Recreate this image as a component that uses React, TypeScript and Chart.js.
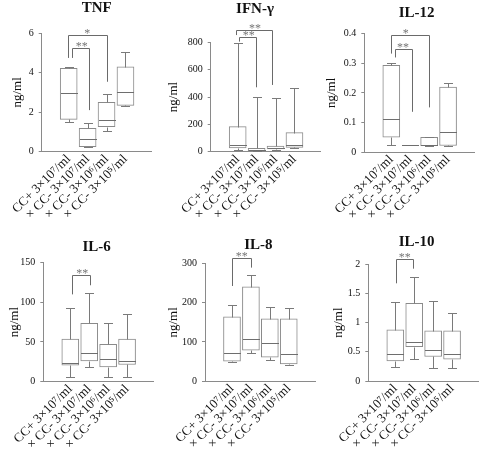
import React, { useEffect, useRef } from "react";
import { Chart, registerables } from "chart.js";

Chart.register(...registerables);

// ---------- category labels ----------
const CATEGORIES = [
  "CC+ 3×10\u2077/ml",
  "× CC- 3×10\u2077/ml",
  "× CC- 3×10\u2076/ml",
  "× CC- 3×10\u2075/ml",
];

// ---------- TNF ----------
const TNF_LOW = [1.52, 0.21, 1.04, 2.31];
const TNF_Q1 = [1.63, 0.25, 1.26, 2.34];
const TNF_MED = [2.95, 0.65, 1.6, 3.02];
const TNF_Q3 = [4.22, 1.17, 2.49, 4.3];
const TNF_HIGH = [4.3, 1.43, 2.92, 5.07];
const TNF_TICKS = [0, 2, 4, 6];

// ---------- IFN-γ ----------
const IFN_LOW = [12, 2, 12, 25];
const IFN_Q1 = [27, 7, 20, 32];
const IFN_MED = [50, 16, 29, 50];
const IFN_Q3 = [183, 24, 42, 140];
const IFN_HIGH = [795, 402, 395, 463];
const IFN_TICKS = [0, 200, 400, 600, 800];

// ---------- IL-12 ----------
const IL12_LOW = [0.024, 0.022, 0.02, 0.02];
const IL12_Q1 = [0.05, 0.022, 0.021, 0.022];
const IL12_MED = [0.11, 0.022, 0.022, 0.067];
const IL12_Q3 = [0.293, 0.022, 0.05, 0.22];
const IL12_HIGH = [0.302, 0.022, 0.052, 0.232];
const IL12_TICKS = [0, 0.1, 0.2, 0.3, 0.4];

// ---------- IL-6 ----------
const IL6_LOW = [6, 18, 6, 6];
const IL6_Q1 = [20.5, 26, 18.5, 21.5];
const IL6_MED = [23, 36, 28, 26];
const IL6_Q3 = [53.5, 73.5, 47, 53.5];
const IL6_HIGH = [93, 112, 73.5, 85];
const IL6_TICKS = [0, 50, 100, 150];

// ---------- IL-8 ----------
const IL8_LOW = [48, 71, 53, 42];
const IL8_Q1 = [51, 79, 61, 44];
const IL8_MED = [72, 108, 96, 69];
const IL8_Q3 = [164, 241, 159, 159];
const IL8_HIGH = [195, 270, 190, 186];
const IL8_TICKS = [0, 100, 200, 300];

// ---------- IL-10 ----------
const IL10_LOW = [0.245, 0.37, 0.23, 0.23];
const IL10_Q1 = [0.345, 0.59, 0.42, 0.375];
const IL10_MED = [0.457, 0.675, 0.53, 0.457];
const IL10_Q3 = [0.875, 1.33, 0.86, 0.86];
const IL10_HIGH = [1.355, 1.785, 1.37, 1.17];
const IL10_TICKS = [0, 0.5, 1, 1.5, 2];

// ---------- significance brackets (category / data units) ----------
type Bracket = { from: number; to: number; top: number; l: number; r: number; text: string; at: number };
const TNF_SIG: Bracket[] = [
  { from: 0.15, to: 1.05, top: 5.25, l: 4.75, r: 2.1, text: "**", at: 0.69 },
  { from: -0.05, to: 2.02, top: 5.91, l: 4.75, r: 3.54, text: "*", at: 0.98 },
];
const IFN_SIG: Bracket[] = [
  { from: 0.09, to: 0.97, top: 836, l: 805, r: 471, text: "**", at: 0.59 },
  { from: -0.11, to: 1.81, top: 893, l: 853, r: 488, text: "**", at: 0.92 },
];
const IL12_SIG: Bracket[] = [
  { from: 0.17, to: 1.08, top: 0.35, l: 0.32, r: 0.136, text: "**", at: 0.62 },
  { from: 0.0, to: 2.0, top: 0.397, l: 0.333, r: 0.151, text: "*", at: 0.77 },
];
const IL6_SIG: Bracket[] = [{ from: 0.08, to: 1.05, top: 134, l: 110, r: 121.5, text: "**", at: 0.63 }];
const IL8_SIG: Bracket[] = [{ from: 0.0, to: 1.0, top: 314, l: 243, r: 290, text: "**", at: 0.52 }];
const IL10_SIG: Bracket[] = [{ from: 0.03, to: 0.96, top: 2.096, l: 1.674, r: 1.925, text: "**", at: 0.5 }];

// ---------- layout / style ----------
const W = 480;
const H = 452;
const PLOT_W = 110;
const X_H = 70;
const X_MIN = -0.7;
const X_MAX = 3.66;
const BOX_W = 17;
const CAP_W = 9;
const SERIF = "'Liberation Serif', 'Times New Roman', serif";
const BOX_COLOR = "#8a8a8a";
const WHISK_COLOR = "#7a7a7a";
const MED_COLOR = "#6e6e6e";
const BRACKET_COLOR = "#6a6a6a";
const AXIS_COLOR = "#8a8a8a";
const TEXT_COLOR = "#111";

type Panel = {
  title: string;
  low: number[]; q1: number[]; med: number[]; q3: number[]; high: number[];
  ticks: number[];
  sig: Bracket[];
  left: number; top: number; bottom: number;
  yTitleX: number;
  titleX: number; titleY: number;
};

const PANELS: Panel[] = [
  { title: "TNF", low: TNF_LOW, q1: TNF_Q1, med: TNF_MED, q3: TNF_Q3, high: TNF_HIGH, ticks: TNF_TICKS, sig: TNF_SIG,
    left: 41.7, top: 33.3, bottom: 151.5, yTitleX: 17.3, titleX: 96.7, titleY: 11.7 },
  { title: "IFN-γ", low: IFN_LOW, q1: IFN_Q1, med: IFN_MED, q3: IFN_Q3, high: IFN_HIGH, ticks: IFN_TICKS, sig: IFN_SIG,
    left: 210.7, top: 42.3, bottom: 151.7, yTitleX: 173.3, titleX: 255, titleY: 12.7 },
  { title: "IL-12", low: IL12_LOW, q1: IL12_Q1, med: IL12_MED, q3: IL12_Q3, high: IL12_HIGH, ticks: IL12_TICKS, sig: IL12_SIG,
    left: 364.3, top: 33.8, bottom: 152, yTitleX: 331.7, titleX: 416.7, titleY: 16.7 },
  { title: "IL-6", low: IL6_LOW, q1: IL6_Q1, med: IL6_MED, q3: IL6_Q3, high: IL6_HIGH, ticks: IL6_TICKS, sig: IL6_SIG,
    left: 43.3, top: 262.7, bottom: 381.5, yTitleX: 15, titleX: 96.7, titleY: 251 },
  { title: "IL-8", low: IL8_LOW, q1: IL8_Q1, med: IL8_MED, q3: IL8_Q3, high: IL8_HIGH, ticks: IL8_TICKS, sig: IL8_SIG,
    left: 205, top: 263.7, bottom: 381, yTitleX: 173.3, titleX: 258.3, titleY: 249.3 },
  { title: "IL-10", low: IL10_LOW, q1: IL10_Q1, med: IL10_MED, q3: IL10_Q3, high: IL10_HIGH, ticks: IL10_TICKS, sig: IL10_SIG,
    left: 368.3, top: 264.3, bottom: 381, yTitleX: 338.3, titleX: 416.7, titleY: 246 },
];

function line(ctx: CanvasRenderingContext2D, x1: number, y1: number, x2: number, y2: number) {
  ctx.beginPath();
  ctx.moveTo(x1, y1);
  ctx.lineTo(x2, y2);
  ctx.stroke();
}

function makePlugin(p: Panel) {
  return {
    id: "boxExtras",
    afterDatasetsDraw(chart: any) {
      const ctx: CanvasRenderingContext2D = chart.ctx;
      const xs = chart.scales.x;
      const ys = chart.scales.y;
      ctx.save();
      ctx.lineWidth = 1;
      p.med.forEach((m, i) => {
        const cx = Math.round(xs.getPixelForValue(i)) + 0.5;
        const yLow = Math.round(ys.getPixelForValue(p.low[i])) + 0.5;
        const yQ1 = Math.round(ys.getPixelForValue(p.q1[i])) + 0.5;
        const yMed = Math.round(ys.getPixelForValue(m)) + 0.5;
        const yQ3 = Math.round(ys.getPixelForValue(p.q3[i])) + 0.5;
        const yHigh = Math.round(ys.getPixelForValue(p.high[i])) + 0.5;
        ctx.strokeStyle = WHISK_COLOR;
        if (yHigh < yQ3) line(ctx, cx, yQ3, cx, yHigh);
        if (yLow > yQ1) line(ctx, cx, yQ1, cx, yLow);
        line(ctx, cx - CAP_W / 2, yHigh, cx + CAP_W / 2, yHigh);
        line(ctx, cx - CAP_W / 2, yLow, cx + CAP_W / 2, yLow);
        ctx.strokeStyle = MED_COLOR;
        line(ctx, cx - BOX_W / 2, yMed, cx + BOX_W / 2, yMed);
      });
      // significance brackets
      ctx.strokeStyle = BRACKET_COLOR;
      ctx.fillStyle = "#777";
      ctx.font = `12px ${SERIF}`;
      ctx.textAlign = "center";
      ctx.textBaseline = "alphabetic";
      p.sig.forEach((b) => {
        const x1 = Math.round(xs.getPixelForValue(b.from)) + 0.5;
        const x2 = Math.round(xs.getPixelForValue(b.to)) + 0.5;
        const yt = Math.round(ys.getPixelForValue(b.top)) + 0.5;
        const yl = ys.getPixelForValue(b.l);
        const yr = ys.getPixelForValue(b.r);
        ctx.beginPath();
        ctx.moveTo(x1, yl);
        ctx.lineTo(x1, yt);
        ctx.lineTo(x2, yt);
        ctx.lineTo(x2, yr);
        ctx.stroke();
        ctx.fillText(b.text, xs.getPixelForValue(b.at), yt + 1.5);
      });
      // panel title
      ctx.fillStyle = TEXT_COLOR;
      ctx.font = `bold 15px ${SERIF}`;
      ctx.textAlign = "center";
      ctx.fillText(p.title, p.titleX, p.titleY);
      ctx.restore();
    },
  };
}

function makeConfig(p: Panel): any {
  const yW = p.left - p.yTitleX + 8.8;
  const padL = p.left - yW;
  const yMax = p.ticks[p.ticks.length - 1];
  return {
    type: "bar",
    data: {
      datasets: [
        {
          data: p.q1.map((v, i) => ({ x: i, y: [v, p.q3[i]] })),
          backgroundColor: "#ffffff",
          borderColor: BOX_COLOR,
          borderWidth: 1,
          borderSkipped: false,
          barThickness: BOX_W,
        },
      ],
    },
    options: {
      animation: false,
      responsive: false,
      events: [],
      layout: {
        padding: { left: padL, top: p.top, right: W - (p.left + PLOT_W), bottom: H - p.bottom - X_H },
      },
      plugins: { legend: { display: false }, tooltip: { enabled: false }, title: { display: false } },
      scales: {
        x: {
          type: "linear",
          min: X_MIN,
          max: X_MAX,
          afterBuildTicks: (axis: any) => {
            axis.ticks = CATEGORIES.map((_, i) => ({ value: i }));
          },
          afterFit: (s: any) => {
            s.height = X_H;
          },
          grid: { display: false, drawTicks: false },
          border: { display: true, color: AXIS_COLOR, width: 1 },
          ticks: {
            autoSkip: false,
            minRotation: 45,
            maxRotation: 45,
            padding: 0,
            color: TEXT_COLOR,
            font: { family: SERIF, size: 13 },
            callback: (v: number) => CATEGORIES[v] ?? "",
          },
        },
        y: {
          min: 0,
          max: yMax,
          afterBuildTicks: (axis: any) => {
            axis.ticks = p.ticks.map((v) => ({ value: v }));
          },
          afterFit: (s: any) => {
            s.width = yW;
          },
          grid: { display: true, drawOnChartArea: false, drawTicks: true, tickLength: 3, color: AXIS_COLOR },
          border: { display: true, color: AXIS_COLOR, width: 1 },
          ticks: {
            padding: 5,
            color: TEXT_COLOR,
            font: { family: SERIF, size: 10 },
            callback: (v: number) => String(v),
          },
          title: {
            display: true,
            text: "ng/ml",
            color: TEXT_COLOR,
            font: { family: SERIF, size: 13 },
            padding: { top: 1, bottom: 0 },
          },
        },
      },
    },
    plugins: [makePlugin(p)],
  };
}

export default function App() {
  const refs = useRef<(HTMLCanvasElement | null)[]>([]);
  useEffect(() => {
    const charts = PANELS.map((p, i) => new Chart(refs.current[i] as HTMLCanvasElement, makeConfig(p)));
    return () => charts.forEach((c) => c.destroy());
  }, []);
  return (
    <div style={{ position: "absolute", left: 0, top: 0, width: W, height: H, background: "#fff" }}>
      {PANELS.map((p, i) => (
        <canvas
          key={p.title}
          ref={(el) => {
            refs.current[i] = el;
          }}
          width={W}
          height={H}
          style={{ position: "absolute", left: 0, top: 0 }}
        />
      ))}
    </div>
  );
}
